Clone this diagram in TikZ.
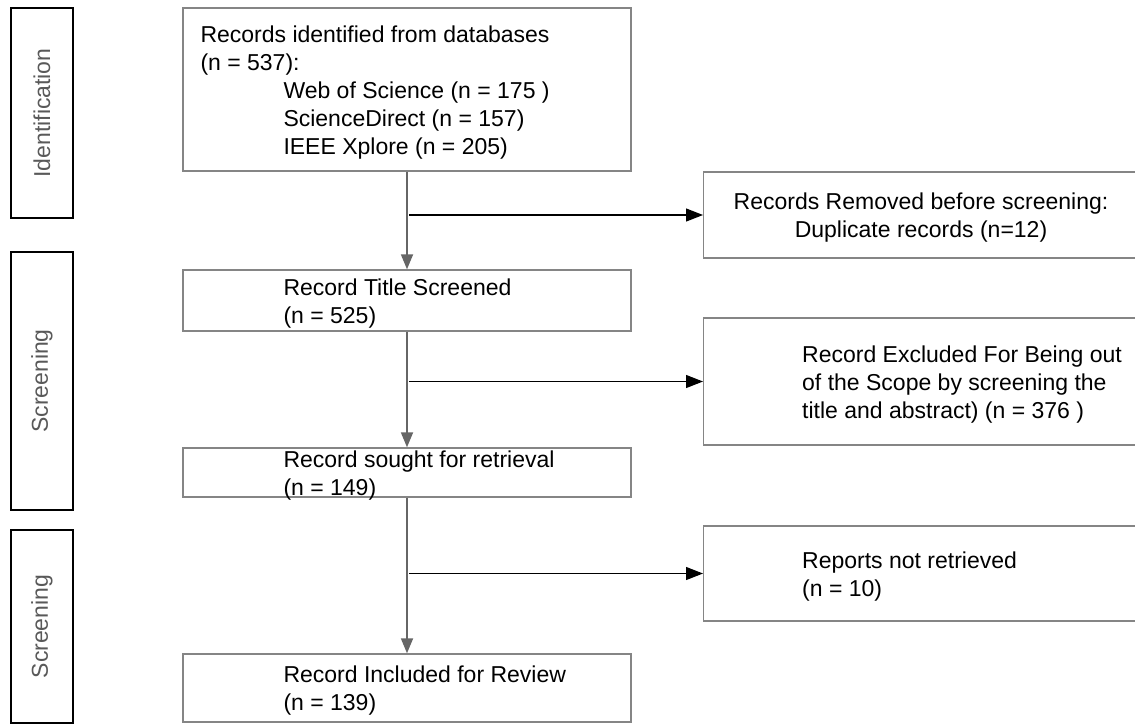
\documentclass[tikz,border=0pt]{standalone}
\usepackage{fontspec}
\setmainfont{Liberation Sans}
\usetikzlibrary{arrows.meta}

\definecolor{boxgray}{HTML}{858585}
\definecolor{flowgray}{HTML}{666666}
\definecolor{phasegray}{HTML}{595959}

\tikzset{
  phase/.style={draw=black, line width=1.4pt, rotate=90, inner sep=0pt,
    text=phasegray, font=\fontsize{23}{28}\selectfont},
  stagebox/.style={draw=boxgray, line width=1.4pt, inner sep=0pt},
  boxtext/.style={inner sep=0pt, align=left, yshift=-3pt, font=\fontsize{23}{28}\selectfont},
  flow/.style={draw=flowgray, line width=1.8pt, -{Triangle[length=15pt,width=12pt]}},
  side/.style={draw=black, line width=1.2pt, -{Triangle[length=17pt,width=13pt]}}
}

\begin{document}
\begin{tikzpicture}[x=1pt, y=-1pt]
    \useasboundingbox (0,0) rectangle (1135,724);

    % phases
    \node[phase, minimum width=210pt, minimum height=62pt] (ident) at (42,113) {Identification};
    \node[phase, minimum width=258pt, minimum height=62pt] (screen) at (42,381) {Screening};
    \node[phase, minimum width=193pt, minimum height=62pt] (incl) at (42,626.5) {Screening};

    % main column
    \node[stagebox, minimum width=448pt, minimum height=163pt] (found) at (407,89.5) {};
    \node[boxtext, anchor=west] (foundtxt) at ([xshift=18pt]found.west)
        {Records identified from databases\\
         (n = 537):\\
         \hspace*{83pt}Web of Science (n = 175 )\\
         \hspace*{83pt}ScienceDirect (n = 157)\\
         \hspace*{83pt}IEEE Xplore (n = 205)};
    \node[stagebox, minimum width=448pt, minimum height=61pt] (title) at (407,300.5) {};
    \node[boxtext, anchor=west] (titletxt) at ([xshift=101pt]title.west)
        {Record Title Screened\\(n = 525)};
    \node[stagebox, minimum width=448pt, minimum height=49pt] (sought) at (407,472.5) {};
    \node[boxtext, anchor=west] (soughttxt) at ([xshift=101pt]sought.west)
        {Record sought for retrieval\\(n = 149)};
    \node[stagebox, minimum width=448pt, minimum height=68pt] (review) at (407,688) {};
    \node[boxtext, anchor=west] (reviewtxt) at ([xshift=101pt]review.west)
        {Record Included for Review\\(n = 139)};

    % side column
    \node[stagebox, minimum width=436pt, minimum height=86pt, anchor=west] (dupes) at (703,215) {};
    \node[boxtext, align=center] (dupestxt) at (921,215)
        {Records Removed before screening:\\Duplicate records (n=12)};
    \node[stagebox, minimum width=436pt, minimum height=127pt, anchor=west] (scope) at (703,381.5) {};
    \node[boxtext, anchor=west] (scopetxt) at ([xshift=99pt]scope.west)
        {Record Excluded For Being out\\
         of the Scope by screening the\\
         title and abstract) (n = 376 )};
    \node[stagebox, minimum width=436pt, minimum height=95pt, anchor=west] (missing) at (703,573.5) {};
    \node[boxtext, anchor=west] (missingtxt) at ([xshift=99pt]missing.west)
        {Reports not retrieved\\(n = 10)};

    % arrows
    \draw[flow] (found) -- (title);
    \draw[flow] (title) -- (sought);
    \draw[flow] (sought) -- (review);
    \draw[side] ([xshift=2pt]found.south |- dupes.west) -- (dupes.west);
    \draw[side] ([xshift=2pt]title.south |- scope.west) -- (scope.west);
    \draw[side] ([xshift=2pt]sought.south |- missing.west) -- (missing.west);
\end{tikzpicture}
\end{document}
